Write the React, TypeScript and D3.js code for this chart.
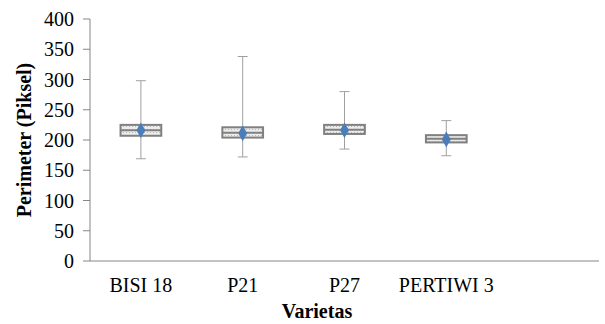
import React from "react";
import * as d3 from "d3";

// Box plot values (perimeter in pixels)
const categories = ["BISI 18", "P21", "P27", "PERTIWI 3"];
const whiskerMax = [298, 338, 280, 232];
const quartile3 = [225, 221, 225, 208];
const medians = [216, 212, 217, 202];
const quartile1 = [207, 204, 210, 196];
const whiskerMin = [169, 172, 185, 174];
const means = [216, 211, 216, 201];
const yTicks = [0, 50, 100, 150, 200, 250, 300, 350, 400];

const W = 605;
const H = 324;
const margin = { left: 90, right: 6, top: 19, bottom: 63 };
const font = "'Liberation Serif', 'Times New Roman', serif";

export default function App() {
  // the chart keeps one empty slot on the right, like the original
  const slots = [...categories, ""];
  const x = d3
    .scaleBand()
    .domain(slots)
    .range([margin.left, W - margin.right])
    .paddingInner(0.6)
    .paddingOuter(0.3);
  const y = d3.scaleLinear().domain([0, 400]).range([H - margin.bottom, margin.top]);

  const boxW = x.bandwidth();
  const capW = 10;

  return (
    <svg
      width={W}
      height={H}
      style={{ position: "absolute", left: 0, top: 0, background: "#fff" }}
      fontFamily={font}
    >
      <defs>
        <pattern id="dots" width="3" height="3" patternUnits="userSpaceOnUse">
          <rect width="3" height="3" fill="#ececec" />
          <rect width="1" height="1" fill="#b8b8b8" />
        </pattern>
      </defs>

      {/* y axis */}
      <line
        x1={margin.left}
        x2={margin.left}
        y1={y(400)}
        y2={y(0)}
        stroke="#868686"
        strokeWidth={1}
      />
      {yTicks.map((t) => (
        <g key={t}>
          <line
            x1={margin.left - 7}
            x2={margin.left}
            y1={y(t)}
            y2={y(t)}
            stroke="#868686"
          />
          <text
            x={margin.left - 16}
            y={y(t)}
            dy="0.35em"
            textAnchor="end"
            fontSize={20}
            fill="#000"
          >
            {t}
          </text>
        </g>
      ))}

      {/* x axis */}
      <line
        x1={margin.left}
        x2={W - margin.right}
        y1={y(0)}
        y2={y(0)}
        stroke="#868686"
      />
      {categories.map((c) => (
        <text
          key={c}
          x={(x(c) as number) + boxW / 2}
          y={292}
          textAnchor="middle"
          fontSize={20}
          fill="#000"
        >
          {c}
        </text>
      ))}

      {/* boxes */}
      {categories.map((c, i) => {
        const cx = (x(c) as number) + boxW / 2;
        return (
          <g key={c}>
            <line x1={cx} x2={cx} y1={y(whiskerMax[i])} y2={y(quartile3[i])} stroke="#a0a0a0" />
            <line x1={cx} x2={cx} y1={y(quartile1[i])} y2={y(whiskerMin[i])} stroke="#a0a0a0" />
            <line
              x1={cx - capW / 2}
              x2={cx + capW / 2}
              y1={y(whiskerMax[i])}
              y2={y(whiskerMax[i])}
              stroke="#a0a0a0"
            />
            <line
              x1={cx - capW / 2}
              x2={cx + capW / 2}
              y1={y(whiskerMin[i])}
              y2={y(whiskerMin[i])}
              stroke="#a0a0a0"
            />
            <rect
              x={x(c)}
              y={y(quartile3[i])}
              width={boxW}
              height={y(quartile1[i]) - y(quartile3[i])}
              fill="url(#dots)"
              stroke="#808080"
              strokeWidth={2}
            />
            <line
              x1={x(c)}
              x2={(x(c) as number) + boxW}
              y1={y(medians[i])}
              y2={y(medians[i])}
              stroke="#808080"
              strokeWidth={2}
            />
            <path
              d={d3.symbol(d3.symbolDiamond, 70)() as string}
              transform={`translate(${cx},${y(means[i])})`}
              fill="#4a7ebb"
            />
          </g>
        );
      })}

      {/* axis titles */}
      <text
        transform={`translate(31,${(y(0) + y(400)) / 2}) rotate(-90)`}
        textAnchor="middle"
        fontSize={20}
        fontWeight="bold"
        fill="#000"
      >
        Perimeter (Piksel)
      </text>
      <text x={317} y={318} textAnchor="middle" fontSize={20} fontWeight="bold" fill="#000">
        Varietas
      </text>
    </svg>
  );
}
